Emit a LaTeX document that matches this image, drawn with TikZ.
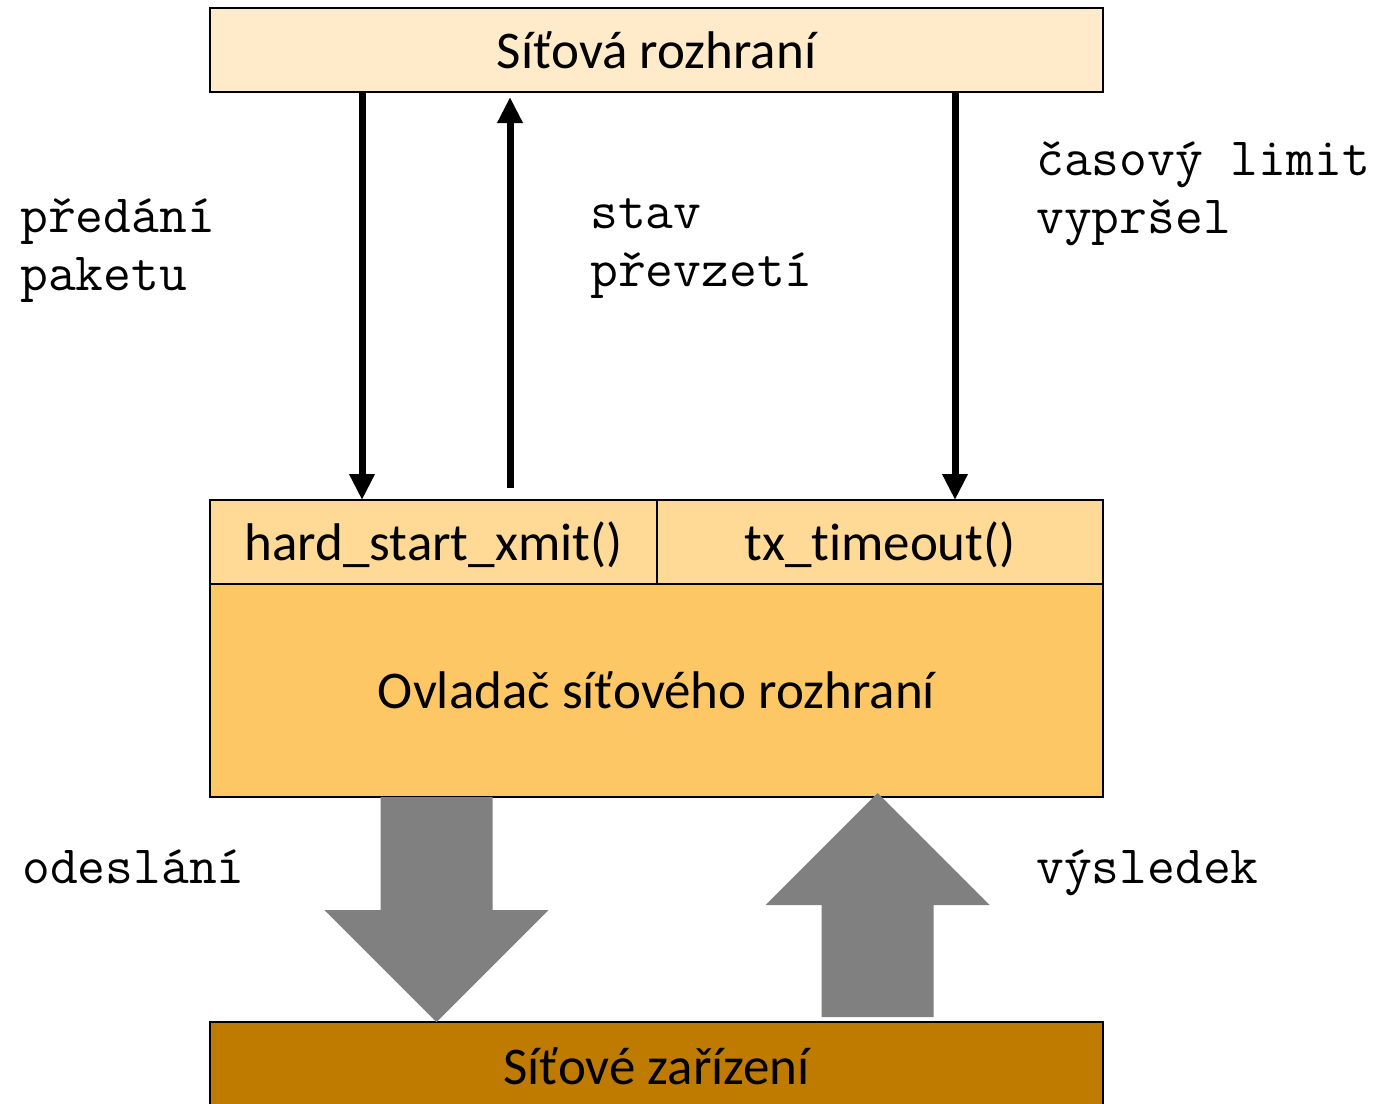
\documentclass[tikz,border=0pt]{standalone}
\usepackage{fontspec}
\setmainfont{Carlito}[Ligatures=NoCommon]
\usetikzlibrary{arrows.meta,calc}

\begin{document}
\begin{tikzpicture}[x=1pt,y=-1pt,
    box/.style = {draw, line width=1.6pt, inner sep=0pt, outer sep=0pt,
        font=\fontsize{53}{60}\selectfont, text height=36pt, text depth=0pt},
    flow/.style = {line width=7pt, -{Triangle[length=26pt,width=24pt]}},
    fat/.style = {fill=black!50},
    lbl/.style = {anchor=base west, align=left, inner sep=0pt,
        font=\ttfamily\fontsize{54}{58}\selectfont}]
    \useasboundingbox (0,0) rectangle (1384,1103);
    \node[box, fill={rgb,255:red,255;green,235;blue,201}, minimum width=893pt, minimum height=84pt] (top) at (656.5,50) {Síťová rozhraní};
    \node[box, fill={rgb,255:red,255;green,217;blue,150}, minimum width=447pt, minimum height=84pt] (hsx) at (433.5,542) {hard\_start\_xmit()};
    \node[box, fill={rgb,255:red,255;green,217;blue,150}, minimum width=446pt, minimum height=84pt] (txt) at (880,542) {tx\_timeout()};
    \node[box, fill={rgb,255:red,253;green,199;blue,102}, minimum width=893pt, minimum height=213pt] (drv) at (656.5,690.5) {Ovladač síťového rozhraní};
    \node[box, fill={rgb,255:red,191;green,123;blue,0}, minimum width=893pt, minimum height=88pt] (dev) at (656.5,1066) {Síťové zařízení};

    \coordinate (a1) at (362,0);
    \coordinate (a2) at (510,0);
    \coordinate (a3) at (955,0);
    \coordinate (snd) at (436.5,0);
    \coordinate (res) at (877.5,0);

    \draw[flow] (top.south -| a1) -- (hsx.north -| a1);
    \draw[flow] ($(hsx.north -| a2)+(0,-12)$) -- ($(top.south -| a2)+(0,5)$);
    \draw[flow] (top.south -| a3) -- (txt.north -| a3);

    \fill[fat] ($(drv.south -| snd)+(-56,0)$) -- ++(112,0) -- ++(0,113) -- ++(56,0)
        -- (dev.north -| snd) -- ++(-112,-112) -- ++(56,0) -- cycle;
    \fill[fat] ($(dev.north -| res)+(-56,-5)$) -- ++(0,-112) -- ++(-56,0)
        -- ($(drv.south -| res)+(0,-4)$) -- ++(112,112) -- ++(-56,0) -- ++(0,112) -- cycle;

    \node[lbl] (l1) at (20,290) {předání\\paketu};
    \node[lbl] (l2) at (590,286) {stav\\převzetí};
    \node[lbl] (l3) at (1036,233) {časový limit\\vypršel};
    \node[lbl] (l4) at (22,883) {odeslání};
    \node[lbl] (l5) at (1036,883) {výsledek};
\end{tikzpicture}
\end{document}
